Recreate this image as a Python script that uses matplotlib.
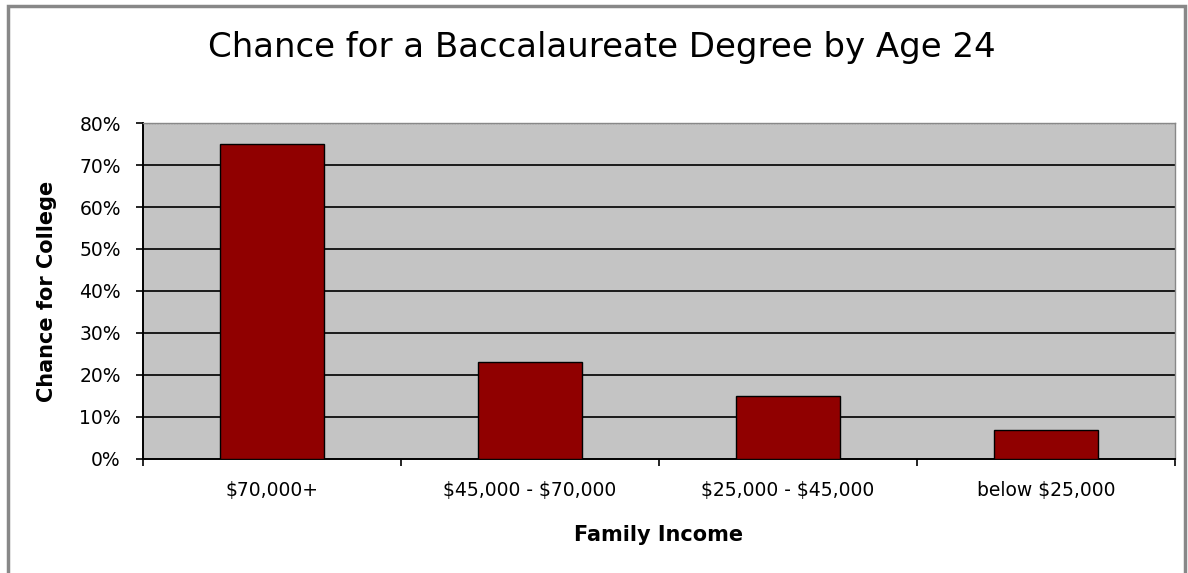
import matplotlib.pyplot as plt
from matplotlib.patches import Rectangle
from matplotlib.ticker import PercentFormatter

plt.rcParams["text.parse_math"] = False

categories = ["$70,000+", "$45,000 - $70,000", "$25,000 - $45,000", "below $25,000"]
chances = [75, 23, 15, 7]
y_ticks = [0, 10, 20, 30, 40, 50, 60, 70, 80]

fig = plt.figure(figsize=(11.88, 5.73), dpi=100)
ax = fig.add_axes([143 / 1188, 1 - 459 / 573, (1175 - 143) / 1188, (459 - 123) / 573])

ax.set_facecolor("#c4c4c4")
x = range(len(categories))
ax.bar(x, chances, width=0.4, color="#900000", edgecolor="black", linewidth=1, zorder=3)

ax.set_xlim(-0.5, len(categories) - 0.5)
ax.set_ylim(0, 80)
ax.set_yticks(y_ticks)
ax.yaxis.set_major_formatter(PercentFormatter(decimals=0))
ax.set_xticks(list(x))
ax.set_xticklabels(categories)
ax.set_xticks([i + 0.5 for i in range(-1, len(categories))], minor=True)
ax.tick_params(axis="x", which="major", length=0, pad=16, labelsize=13.5)
ax.tick_params(axis="x", which="minor", length=5, width=1.2, direction="out")
ax.tick_params(axis="y", length=5, width=1.2, direction="out", labelsize=13.5, pad=11)

for v in y_ticks[1:-1]:
    ax.axhline(v, color="#1a1a1a", linewidth=1.4, zorder=1)
ax.axhline(80, color="#888888", linewidth=1, linestyle=(0, (1, 1)), zorder=1)

for side in ["top", "right"]:
    ax.spines[side].set_color("#888888")
    ax.spines[side].set_linewidth(1)
for side in ["left", "bottom"]:
    ax.spines[side].set_color("black")
    ax.spines[side].set_linewidth(1.4)

ax.set_xlabel("Family Income", fontsize=15, fontweight="bold", labelpad=18)
ax.set_ylabel("Chance for College", fontsize=15, fontweight="bold", labelpad=16)
fig.text(602 / 1188, 1 - 47 / 573, "Chance for a Baccalaureate Degree by Age 24",
         ha="center", va="center", fontsize=24.5)

# outer chart frame
fig.add_artist(Rectangle((8 / 1188, -0.01), 1177 / 1188, 1.0, transform=fig.transFigure,
                         fill=False, edgecolor="#888888", linewidth=2.5))

fig.savefig("out.png", dpi=100)
